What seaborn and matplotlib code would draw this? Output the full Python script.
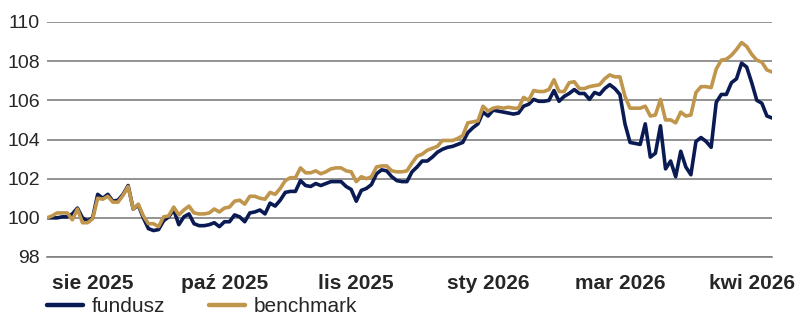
import numpy as np
import pandas as pd
import matplotlib
matplotlib.use("Agg")
import matplotlib.pyplot as plt
import seaborn as sns

# ── dane ─────────────────────────────────────────────────────────────────────
fundusz = [
    100.0, 100.0, 100.0, 100.05, 100.05, 100.2, 100.5, 100.0, 99.85, 100.0,
    101.2, 101.0, 101.2, 100.85, 100.9, 101.2, 101.65, 100.45, 100.65, 100.0,
    99.45, 99.35, 99.4, 99.85, 100.05, 100.4, 99.65, 100.05, 100.2, 99.7,
    99.6, 99.6, 99.65, 99.75, 99.55, 99.8, 99.8, 100.15, 100.05, 99.8,
    100.25, 100.3, 100.4, 100.2, 100.75, 100.6, 100.9, 101.3, 101.35, 101.35,
    101.9, 101.65, 101.6, 101.75, 101.65, 101.75, 101.85, 101.85, 101.85, 101.6,
    101.45, 100.85, 101.4, 101.5, 101.7, 102.25, 102.45, 102.4, 102.1, 101.9,
    101.85, 101.85, 102.35, 102.6, 102.9, 102.9, 103.1, 103.35, 103.5, 103.6,
    103.65, 103.75, 103.85, 104.35, 104.6, 104.8, 105.4, 105.2, 105.5, 105.45,
    105.4, 105.35, 105.3, 105.35, 105.7, 105.8, 106.05, 105.95, 105.95, 106.0,
    106.5, 105.95, 106.2, 106.35, 106.55, 106.35, 106.35, 106.05, 106.4, 106.3,
    106.6, 106.8, 106.6, 106.3, 104.8, 103.85, 103.8, 103.75, 104.8, 103.1,
    103.3, 104.7, 102.5, 102.9, 102.1, 103.4, 102.6, 102.2, 103.9, 104.1,
    103.9, 103.6, 105.9, 106.3, 106.3, 106.9, 107.1, 107.9, 107.7, 106.9,
    106.0, 105.85, 105.2, 105.1,
]
benchmark = [
    100.0, 100.1, 100.25, 100.25, 100.25, 99.9, 100.45, 99.75, 99.75, 99.95,
    101.0, 100.95, 101.1, 100.8, 100.8, 101.15, 101.6, 100.45, 100.7, 100.1,
    99.7, 99.7, 99.55, 100.05, 100.1, 100.55, 100.15, 100.4, 100.6, 100.25,
    100.2, 100.2, 100.25, 100.45, 100.3, 100.5, 100.55, 100.85, 100.9, 100.7,
    101.1, 101.1, 101.0, 100.95, 101.3, 101.2, 101.5, 101.9, 102.05, 102.05,
    102.55, 102.3, 102.3, 102.4, 102.25, 102.35, 102.5, 102.55, 102.55, 102.4,
    102.35, 101.85, 102.1, 102.0, 102.1, 102.6, 102.65, 102.65, 102.4, 102.35,
    102.35, 102.4, 102.8, 103.15, 103.25, 103.45, 103.55, 103.65, 103.95, 103.95,
    103.95, 104.05, 104.2, 104.85, 104.9, 104.95, 105.7, 105.45, 105.6, 105.65,
    105.6, 105.65, 105.6, 105.6, 106.15, 106.0, 106.5, 106.45, 106.45, 106.55,
    107.05, 106.45, 106.45, 106.9, 106.95, 106.6, 106.6, 106.7, 106.75, 106.8,
    107.1, 107.3, 107.2, 107.2, 106.2, 105.6, 105.6, 105.6, 105.7, 105.2,
    105.25, 106.05, 105.0, 105.0, 104.85, 105.4, 105.2, 105.25, 106.4, 106.7,
    106.7, 106.65, 107.6, 108.05, 108.1, 108.3, 108.6, 108.95, 108.75, 108.35,
    108.05, 107.95, 107.55, 107.45,
]
tick_labels = ["sie 2025", "paź 2025", "lis 2025", "sty 2026", "mar 2026", "kwi 2026"]
first_tick, tick_step = 9, 26

n = len(fundusz)
df = pd.DataFrame({
    "i": np.tile(np.arange(n), 2),
    "value": fundusz + benchmark,
    "series": ["fundusz"] * n + ["benchmark"] * n,
})

NAVY, GOLD = "#0a1a52", "#c0954c"

# ── wykres ───────────────────────────────────────────────────────────────────
sns.set_style("white")
plt.rcParams["font.family"] = ["Liberation Sans", "DejaVu Sans"]

fig = plt.figure(figsize=(7.95, 3.18), dpi=100)
ax = fig.add_axes([47 / 795, 1 - 257 / 318, 725 / 795, 235 / 318])

sns.lineplot(data=df, x="i", y="value", hue="series",
             palette={"fundusz": NAVY, "benchmark": GOLD},
             hue_order=["fundusz", "benchmark"],
             linewidth=2.6, ax=ax, legend=False)

ax.set_xlim(0, n - 1)
ax.set_ylim(98, 110)
ax.set_yticks(range(98, 111, 2))
ax.set_xticks([first_tick + tick_step * k for k in range(len(tick_labels))])
ax.set_xticklabels(tick_labels, fontweight="bold", fontsize=15)
ax.tick_params(axis="y", length=0, pad=5, labelsize=14)
ax.tick_params(axis="x", length=4.5, width=1.2, color="#808080", direction="out", pad=8)
ax.set_xlabel(""); ax.set_ylabel("")

ax.yaxis.grid(True, color="#808080", linewidth=1.2)
ax.set_axisbelow(True)
for s in ["top", "right", "left"]:
    ax.spines[s].set_visible(False)
ax.spines["bottom"].set_color("#808080")
ax.spines["bottom"].set_linewidth(1.2)

handles = [plt.Line2D([], [], color=NAVY, lw=3.2),
           plt.Line2D([], [], color=GOLD, lw=3.2)]
fig.legend(handles, ["fundusz", "benchmark"], loc="center left",
           bbox_to_anchor=(47 / 795, 1 - 307 / 318), ncol=2, frameon=False,
           fontsize=15, handlelength=1.75, handletextpad=0.4, columnspacing=2.1,
           borderpad=0, borderaxespad=0)

plt.savefig("out.png", dpi=100)
